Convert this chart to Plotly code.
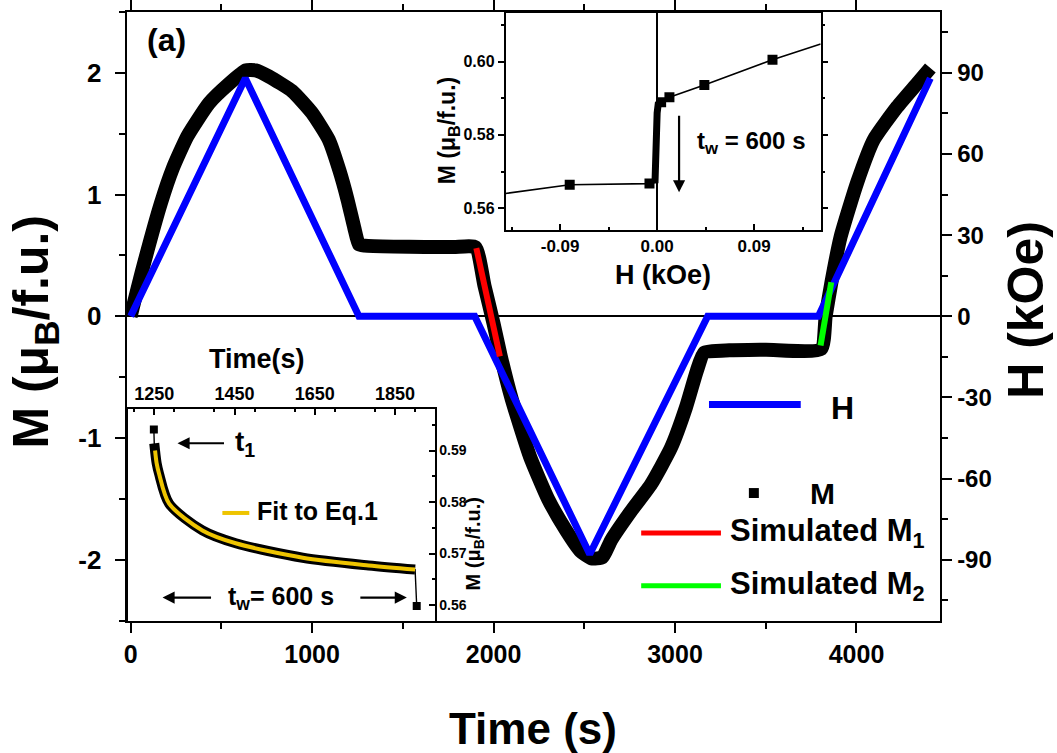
import plotly.graph_objects as go

# ---------------- data ----------------
# main panel: magnetisation M (muB/f.u.) versus time (s)
t_M = [0, 66, 167, 231, 313, 432, 542, 634, 689, 762, 890, 1000, 1092, 1150, 1195,
       1232, 1258, 1290, 1450, 1620, 1780, 1900, 1950, 2000, 2040, 2100, 2200, 2300,
       2400, 2480, 2540, 2600, 2648, 2758, 2868, 2978, 3060, 3120, 3160, 3300, 3500,
       3805, 3830, 3862, 3912, 4004, 4095, 4224, 4333, 4407]
M_main = [0.0, 0.39, 0.93, 1.21, 1.48, 1.75, 1.91, 2.02, 2.02, 1.97, 1.85, 1.67, 1.45,
          1.20, 0.96, 0.73, 0.59, 0.58, 0.572, 0.569, 0.568, 0.567, 0.25, -0.06, -0.33,
          -0.68, -1.15, -1.50, -1.76, -1.93, -1.99, -1.98, -1.84, -1.60, -1.38, -1.08,
          -0.75, -0.45, -0.30, -0.28, -0.275, -0.27, 0.0, 0.28, 0.65, 1.10, 1.45, 1.72,
          1.91, 2.04]

# applied field H (kOe) versus time (s)
t_H = [0, 632, 1258, 1896, 2530, 3180, 3790, 4407]
H_field = [0, 88, 0, 0, -88, 0, 0, 88]

# simulated magnetisation segments
t_M1 = [1905, 1970, 2035]
M1 = [0.56, 0.12, -0.33]
t_M2 = [3802, 3832, 3861]
M2 = [-0.24, 0.03, 0.28]

# tick labels
M_ticks = [-2, -1, 0, 1, 2]
M_ticklabels = ["-2", "-1", "0", "1", "2"]
H_ticks = [-90, -60, -30, 0, 30, 60, 90]
H_ticklabels = ["-90", "-60", "-30", "0", "30", "60", "90"]
Hloop_ticks = [-0.09, 0.0, 0.09]
Hloop_ticklabels = ["-0.09", "0.00", "0.09"]

# upper inset: M versus H near zero field
H_loop = [0.1517, 0.107, 0.0438, 0.0114, 0.0037, 0.0, -0.0015, -0.0071, -0.0811, -0.1406]
M_loop = [0.6048, 0.6005, 0.5936, 0.5903, 0.5889, 0.5875, 0.5670, 0.5667, 0.5664, 0.5640]
H_sweep = [0.107, 0.0438, 0.0114, 0.0037, -0.0071, -0.0811]
M_sweep = [0.6005, 0.5936, 0.5903, 0.5889, 0.5667, 0.5664]
H_wait = [0.0037, 0.001, 0.0, -0.001, -0.0015, -0.002]
M_wait = [0.5889, 0.5884, 0.5860, 0.5780, 0.5700, 0.5668]

# lower inset: relaxation during the waiting time
t_relax = [1250, 1256, 1262, 1287, 1370, 1453, 1620, 1784, 1900]
M_relax = [0.5914, 0.5875, 0.5855, 0.5797, 0.5745, 0.5720, 0.5692, 0.5677, 0.5669]
t_fit = [1252, 1256, 1262, 1287, 1370, 1453, 1620, 1784, 1900]
M_fit = [0.5900, 0.5875, 0.5855, 0.5797, 0.5745, 0.5720, 0.5692, 0.5677, 0.5669]
t_ends = [1249, 1904]
M_ends = [0.5941, 0.5598]

# ---------------- layout helpers ----------------
W, HPX = 1057, 753
FONT = "Liberation Sans"


def px(x, y):
    return x / W, 1 - y / HPX


def bold(size, family=FONT):
    return dict(family=family, size=size, color="black", weight="bold")


def label(x, y, text, size, angle=0, xanchor="center"):
    X, Y = px(x, y)
    return dict(x=X, y=Y, xref="paper", yref="paper", text=text, showarrow=False,
                textangle=angle, xanchor=xanchor, yanchor="middle", font=bold(size))


def arrow(x, y, ax, ay):
    X, Y = px(x, y)
    return dict(x=X, y=Y, xref="paper", yref="paper", text="", showarrow=True,
                ax=ax, ay=ay, arrowhead=2, arrowsize=1.1, arrowwidth=2.2,
                arrowcolor="black")


def hline(x0, x1, y, color, width):
    X0, Y = px(x0, y)
    X1, _ = px(x1, y)
    return dict(type="line", xref="paper", yref="paper", x0=X0, x1=X1, y0=Y, y1=Y,
                line=dict(color=color, width=width))


fig = go.Figure()

# main panel
fig.add_trace(go.Scatter(x=t_M, y=M_main, mode="lines", xaxis="x", yaxis="y",
                         line=dict(color="black", width=14, shape="spline",
                                   smoothing=0.5)))
fig.add_trace(go.Scatter(x=t_H, y=H_field, mode="lines", xaxis="x", yaxis="y2",
                         line=dict(color="#0000ff", width=7)))
fig.add_trace(go.Scatter(x=t_M1, y=M1, mode="lines", xaxis="x", yaxis="y5",
                         line=dict(color="#ff0000", width=6)))
fig.add_trace(go.Scatter(x=t_M2, y=M2, mode="lines", xaxis="x", yaxis="y5",
                         line=dict(color="#00ff00", width=6)))

# upper inset
fig.add_trace(go.Scatter(x=H_loop, y=M_loop, mode="lines", xaxis="x3", yaxis="y3",
                         line=dict(color="black", width=1.6)))
fig.add_trace(go.Scatter(x=H_wait, y=M_wait, mode="lines", xaxis="x3", yaxis="y3",
                         line=dict(color="black", width=7)))
fig.add_trace(go.Scatter(x=H_sweep, y=M_sweep, mode="markers", xaxis="x3", yaxis="y3",
                         marker=dict(symbol="square", size=10, color="black")))

# lower inset
fig.add_trace(go.Scatter(x=[t_ends[0]] + t_relax + [t_ends[1]],
                         y=[M_ends[0]] + M_relax + [M_ends[1]],
                         mode="lines", xaxis="x4", yaxis="y4",
                         line=dict(color="black", width=1.4)))
fig.add_trace(go.Scatter(x=t_relax, y=M_relax, mode="lines", xaxis="x4", yaxis="y4",
                         line=dict(color="black", width=10, shape="spline",
                                   smoothing=0.8)))
fig.add_trace(go.Scatter(x=t_fit, y=M_fit, mode="lines", xaxis="x4", yaxis="y4",
                         line=dict(color="#eec400", width=4, shape="spline",
                                   smoothing=0.8)))
fig.add_trace(go.Scatter(x=t_ends, y=M_ends, mode="markers", xaxis="x4", yaxis="y4",
                         marker=dict(symbol="square", size=8, color="black")))

main_axis = dict(showline=True, linecolor="black", linewidth=2, showgrid=False,
                 zeroline=False, ticks="outside", tickcolor="black", tickwidth=2,
                 ticklen=10)
inset_axis = dict(showline=True, linecolor="black", linewidth=1.5, showgrid=False,
                  zeroline=False, tickcolor="black", tickwidth=1.5, ticklen=6)

fig.update_layout(
    width=W, height=HPX, autosize=False,
    margin=dict(l=0, r=0, t=0, b=0),
    paper_bgcolor="white", plot_bgcolor="white",
    showlegend=False,
    xaxis=dict(main_axis, domain=[124 / W, 940 / W], range=[-22, 4462], anchor="y",
               tick0=0, dtick=1000, mirror="ticks",
               minor=dict(dtick=500, ticklen=6, ticks="outside", tickcolor="black",
                          tickwidth=2),
               tickfont=bold(25)),
    yaxis=dict(main_axis, domain=[1 - 620 / HPX, 1 - 9 / HPX], range=[-2.5, 2.5],
               anchor="x", tickvals=M_ticks, ticktext=M_ticklabels,
               ticklabelstandoff=8,
               zeroline=True, zerolinecolor="black", zerolinewidth=1.5,
               minor=dict(dtick=0.5, ticklen=6, ticks="outside", tickcolor="black",
                          tickwidth=2),
               tickfont=bold(26)),
    yaxis2=dict(main_axis, overlaying="y", side="right", anchor="x",
                range=[-112.5, 112.5], tickvals=H_ticks, ticktext=H_ticklabels,
                minor=dict(dtick=15, ticklen=6, ticks="outside", tickcolor="black",
                           tickwidth=2),
                tickfont=bold(24)),
    yaxis5=dict(overlaying="y", range=[-2.5, 2.5], visible=False, anchor="x"),
    xaxis3=dict(inset_axis, domain=[504 / W, 820 / W], anchor="y3",
                range=[-0.1406, 0.1517], tickvals=Hloop_ticks,
                ticktext=Hloop_ticklabels, ticks="inside", mirror=True,
                zeroline=True, zerolinecolor="black", zerolinewidth=1.5,
                minor=dict(dtick=0.045, ticklen=3, ticks="inside", tickcolor="black"),
                tickfont=bold(17)),
    yaxis3=dict(inset_axis, domain=[1 - 228 / HPX, 1 - 10 / HPX], anchor="x3",
                range=[0.554, 0.6133], tick0=0.56, dtick=0.02, tickformat=".2f",
                ticks="outside", mirror="ticks",
                minor=dict(dtick=0.01, ticklen=3, ticks="outside", tickcolor="black"),
                tickfont=bold(16)),
    xaxis4=dict(inset_axis, domain=[125 / W, 433 / W], anchor="y4", side="top",
                range=[1183.7, 1949], tick0=1250, dtick=200, ticks="inside",
                mirror=True,
                minor=dict(dtick=100, ticklen=3, ticks="inside", tickcolor="black"),
                tickfont=bold(18)),
    yaxis4=dict(inset_axis, domain=[1 - 620 / HPX, 1 - 408 / HPX], anchor="x4",
                side="right", range=[0.557, 0.598], tick0=0.56, dtick=0.01,
                tickformat=".2f", ticks="inside", mirror=True,
                minor=dict(dtick=0.005, ticklen=3, ticks="inside", tickcolor="black"),
                tickfont=bold(14)),
)

annotations = [
    label(164, 37, "(a)", 32),
    label(32, 330, "M (μ<sub>B</sub>/f.u.)", 50, angle=-90),
    label(1026, 308, "H (kOe)", 50, angle=-90),
    label(532, 728, "Time (s)", 44),
    # legend text
    label(842, 407, "H", 32),
    label(822, 492, "M", 30),
    label(727, 532, "Simulated M<sub>1</sub>", 31, xanchor="left"),
    label(727, 585, "Simulated M<sub>2</sub>", 31, xanchor="left"),
    # upper inset text
    label(447, 128, "M (μ<sub>B</sub>/f.u.)", 23, angle=-90),
    label(662, 273, "H (kOe)", 27),
    label(750, 140, "t<sub>w</sub> = 600 s", 24),
    arrow(678, 190, 0, -78),
    # lower inset text
    label(255, 357, "Time(s)", 27),
    label(473, 543, "M (μ<sub>B</sub>/f.u.)", 20, angle=-90),
    label(243, 442, "t<sub>1</sub>", 28),
    arrow(175, 442, 48, 0),
    label(253, 510, "Fit to Eq.1", 25, xanchor="left"),
    label(279, 597, "t<sub>w</sub>= 600 s", 25),
    arrow(160, 597, 50, 0),
    arrow(405, 597, -48, 0),
]

sq_x0, sq_y0 = px(748, 497)
sq_x1, sq_y1 = px(758, 487)
shapes = [
    hline(708, 800, 403, "#0000ff", 7),
    dict(type="rect", xref="paper", yref="paper", x0=sq_x0, x1=sq_x1, y0=sq_y0,
         y1=sq_y1, fillcolor="black", line=dict(width=0)),
    hline(640, 720, 532, "#ff0000", 5),
    hline(640, 720, 585, "#00ff00", 5),
    hline(220, 247, 512, "#eec400", 4),
]

fig.update_layout(annotations=annotations, shapes=shapes)

fig.write_html("out.html")
